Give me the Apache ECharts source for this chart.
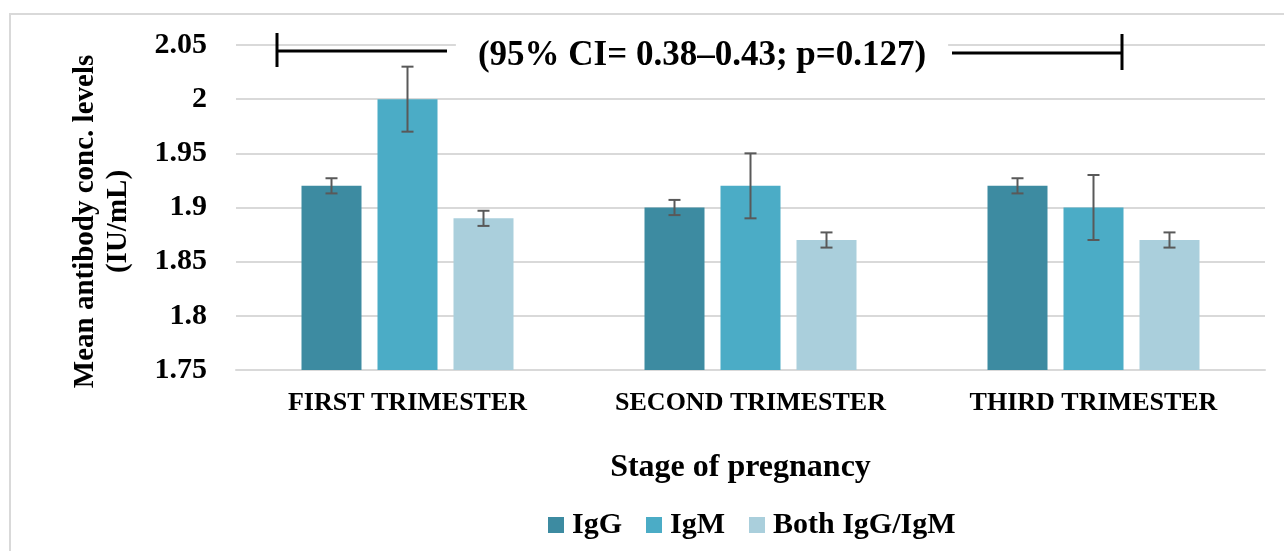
<!DOCTYPE html>
<html>
<head>
<meta charset="utf-8">
<script src="https://cdn.jsdelivr.net/npm/echarts@6/dist/echarts.min.js"></script>
<style>
  html, body { margin: 0; padding: 0; background: #fff; }
  #chart { width: 1284px; height: 551px; }
</style>
</head>
<body>
<div id="chart"></div>
<script>
const stages = ['FIRST TRIMESTER', 'SECOND TRIMESTER', 'THIRD TRIMESTER'];
const seriesNames = ['IgG', 'IgM', 'Both IgG/IgM'];
const igG = [1.92, 1.90, 1.92];
const igM = [2.00, 1.92, 1.90];
const both = [1.89, 1.87, 1.87];
const igGErr = [0.007, 0.007, 0.007];
const igMErr = [0.03, 0.03, 0.03];
const bothErr = [0.007, 0.007, 0.007];
const annotation = '(95% CI= 0.38\u20130.43; p=0.127)';

const colors = ['#3D8BA1', '#4BACC6', '#AACFDC'];
const font = '"Liberation Serif", "Times New Roman", serif';
const barWidth = 60;
const barStep = 76;

const values = [igG, igM, both];
const errors = [igGErr, igMErr, bothErr];

const myChart = echarts.init(document.getElementById('chart'));

const barSeries = values.map((vals, i) => ({
    name: seriesNames[i],
    type: 'bar',
    data: vals,
    barWidth: barWidth,
    barGap: ((barStep - barWidth) / barWidth * 100) + '%',
    itemStyle: { color: colors[i] }
}));

// error bars drawn next to each bar of the group
const errorSeries = values.map((vals, i) => ({
    type: 'custom',
    silent: true,
    z: 5,
    data: vals.map((v, j) => [j, v - errors[i][j], v + errors[i][j]]),
    renderItem: function (params, api) {
        const lo = api.coord([api.value(0), api.value(1)]);
        const hi = api.coord([api.value(0), api.value(2)]);
        const x = lo[0] + (i - 1) * barStep;
        const cap = 6;
        const style = { stroke: '#595959', lineWidth: 2 };
        return {
            type: 'group',
            children: [
                { type: 'line', shape: { x1: x, y1: hi[1], x2: x, y2: lo[1] }, style: style },
                { type: 'line', shape: { x1: x - cap, y1: hi[1], x2: x + cap, y2: hi[1] }, style: style },
                { type: 'line', shape: { x1: x - cap, y1: lo[1], x2: x + cap, y2: lo[1] }, style: style }
            ]
        };
    }
}));

const option = {
    animation: false,
    textStyle: { fontFamily: font },
    grid: { left: 236, right: 19, top: 45, bottom: 181 },
    legend: {
        data: seriesNames,
        top: 505,
        left: 543,
        itemWidth: 16,
        itemHeight: 16,
        itemGap: 24,
        icon: 'rect',
        textStyle: { fontFamily: font, fontWeight: 'bold', fontSize: 30, color: '#000', padding: [0, 0, 0, 3] }
    },
    xAxis: {
        type: 'category',
        data: stages,
        name: 'Stage of pregnancy',
        nameLocation: 'middle',
        nameGap: 82,
        nameTextStyle: { fontFamily: font, fontWeight: 'bold', fontSize: 32, color: '#000', padding: [0, 20, 0, 0] },
        axisLine: { lineStyle: { color: '#d9d9d9', width: 2 } },
        axisTick: { show: false },
        axisLabel: { interval: 0, fontFamily: font, fontWeight: 'bold', fontSize: 26, color: '#000', margin: 20 }
    },
    yAxis: {
        type: 'value',
        min: 1.75,
        max: 2.05,
        interval: 0.05,
        name: 'Mean antibody conc. levels\n(IU/mL)',
        nameLocation: 'middle',
        nameRotate: 90,
        nameGap: 101,
        nameTextStyle: { fontFamily: font, fontWeight: 'bold', fontSize: 29, color: '#000', lineHeight: 33, padding: [0, 28, 0, 0] },
        axisLine: { show: false },
        axisTick: { show: false },
        splitLine: { lineStyle: { color: '#d9d9d9', width: 2 } },
        axisLabel: {
            fontFamily: font, fontWeight: 'bold', fontSize: 30, color: '#000', margin: 29,
            formatter: v => String(parseFloat(v.toFixed(2)))
        }
    },
    graphic: [
        { type: 'rect', shape: { x: 10, y: 14, width: 1400, height: 700 }, style: { fill: 'none', stroke: '#d9d9d9', lineWidth: 2 }, silent: true },
        {
            type: 'text', x: 702, y: 56, z: 100,
            style: {
                text: annotation, fontFamily: font, fontWeight: 'bold', fontSize: 35, fill: '#000',
                align: 'center', verticalAlign: 'middle', backgroundColor: '#fff', padding: [4, 22]
            }
        },
        { type: 'line', z: 101, shape: { x1: 277, y1: 51, x2: 447, y2: 51 }, style: { stroke: '#000', lineWidth: 3 } },
        { type: 'line', z: 101, shape: { x1: 277, y1: 33, x2: 277, y2: 67 }, style: { stroke: '#000', lineWidth: 3 } },
        { type: 'line', z: 101, shape: { x1: 952, y1: 53, x2: 1122, y2: 53 }, style: { stroke: '#000', lineWidth: 3 } },
        { type: 'line', z: 101, shape: { x1: 1122, y1: 34, x2: 1122, y2: 70 }, style: { stroke: '#000', lineWidth: 3 } }
    ],
    series: barSeries.concat(errorSeries)
};
myChart.setOption(option);
</script>
</body>
</html>
